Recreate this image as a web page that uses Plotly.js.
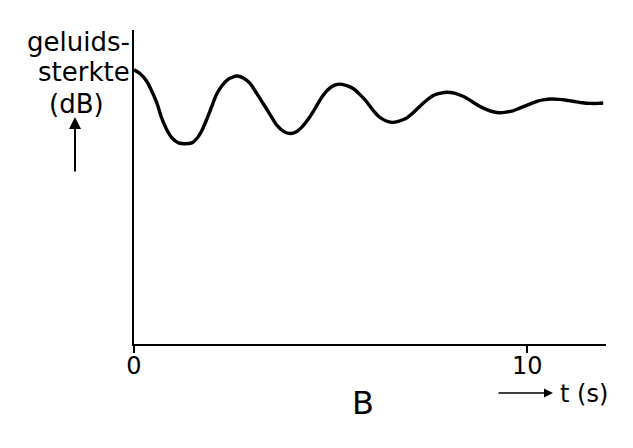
<!DOCTYPE html>
<html>
<head>
<meta charset="utf-8">
<script src="https://cdn.plot.ly/plotly-3.0.1.min.js"></script>
<style>
  html, body { margin: 0; padding: 0; background: #fff; }
  #chart { width: 633px; height: 448px; }
</style>
</head>
<body>
<div id="chart"></div>
<script>
// time (s)
const tValues = [
  0.00,0.15,0.32,0.45,0.58,0.70,0.83,0.96,1.13,1.30,
  1.47,1.60,1.72,1.85,1.98,2.10,2.23,2.40,2.61,
  2.78,2.95,3.12,3.29,3.46,3.63,3.80,3.97,
  4.13,4.29,4.45,4.61,4.77,4.93,5.09,5.25,
  5.41,5.58,5.74,5.91,6.07,6.23,6.40,6.56,
  6.74,6.91,7.09,7.27,7.44,7.62,7.80,7.97,
  8.14,8.30,8.47,8.63,8.80,8.97,9.13,9.30,
  9.46,9.63,9.79,9.95,10.11,10.28,10.44,10.60,
  10.80,11.00,11.20,11.40,11.60,11.80,11.93];
// geluidssterkte (relative units, no scale shown on the axis)
const levelValues = [
  88.2,87.0,84.6,81.4,77.6,72.8,69.0,66.4,64.7,64.4,
  64.7,66.1,68.5,72.3,76.5,80.3,83.0,85.2,86.2,
  85.6,83.8,80.6,77.2,73.8,70.4,68.4,67.7,
  68.3,70.1,72.7,75.9,79.3,81.8,83.2,83.6,
  83.1,82.1,80.3,78.0,75.3,73.1,71.8,71.3,
  71.7,72.5,74.3,76.5,78.4,80.0,80.7,81.0,
  80.7,80.0,79.0,77.7,76.4,75.4,74.7,74.4,
  74.6,75.0,75.8,76.6,77.4,78.2,78.6,78.8,
  78.7,78.4,78.0,77.6,77.4,77.4,77.5];
// x tick labels
const xTickVals = [0, 10];
const xTickText = ['0', '10'];
const yLabelLines = ['geluids-', 'sterkte', '(dB)'];
const xLabel = 't (s)';
const panelLabel = 'B';

const W = 633, H = 448;
const M = {l: 134, r: 27, t: 30, b: 104};
const PW = W - M.l - M.r, PH = H - M.t - M.b;
const px = x => (x - M.l) / PW;
const py = y => (H - M.b - y) / PH;

const FONT = 'DejaVu Sans, Liberation Sans, sans-serif';

const trace = {
  x: tValues, y: levelValues, type: 'scatter', mode: 'lines',
  line: {color: '#000', width: 3.4, shape: 'spline', smoothing: 0.6},
  hoverinfo: 'skip', showlegend: false
};

const annotations = [
  {text: yLabelLines[0], x: px(78), y: py(42), xref: 'paper', yref: 'paper', xanchor: 'center', yanchor: 'middle', showarrow: false, font: {family: FONT, size: 26, color: '#000'}},
  {text: yLabelLines[1], x: px(84), y: py(72), xref: 'paper', yref: 'paper', xanchor: 'center', yanchor: 'middle', showarrow: false, font: {family: FONT, size: 26, color: '#000'}},
  {text: yLabelLines[2], x: px(76), y: py(104), xref: 'paper', yref: 'paper', xanchor: 'center', yanchor: 'middle', showarrow: false, font: {family: FONT, size: 26, color: '#000'}},
  // up arrow
  {text: '', x: px(75), y: py(117), xref: 'paper', yref: 'paper', showarrow: true, ax: 0, ay: 56, arrowhead: 2, arrowsize: 1.2, arrowwidth: 2, arrowcolor: '#000', standoff: 0},
  // right arrow
  {text: '', x: px(553), y: py(393), xref: 'paper', yref: 'paper', showarrow: true, ax: -56, ay: 0, arrowhead: 2, arrowsize: 1.2, arrowwidth: 1.5, arrowcolor: '#000', standoff: 0},
  {text: xLabel, x: px(584), y: py(394), xref: 'paper', yref: 'paper', xanchor: 'center', yanchor: 'middle', showarrow: false, font: {family: FONT, size: 24, color: '#000'}},
  {text: panelLabel, x: px(363), y: py(403), xref: 'paper', yref: 'paper', xanchor: 'center', yanchor: 'middle', showarrow: false, font: {family: FONT, size: 32, color: '#000'}}
];

const layout = {
  width: W, height: H, autosize: false,
  margin: M,
  paper_bgcolor: '#fff', plot_bgcolor: '#fff',
  showlegend: false,
  xaxis: {
    range: [0, 12], showgrid: false, zeroline: false,
    showline: true, linecolor: '#000', linewidth: 2,
    tickmode: 'array', tickvals: xTickVals, ticktext: xTickText,
    ticks: 'outside', ticklen: 7, tickwidth: 2, tickcolor: '#000',
    ticklabelstandoff: -8,
    tickfont: {family: FONT, size: 24, color: '#000'},
    fixedrange: true
  },
  xaxis2: {
    range: [0, 12], overlaying: 'x', anchor: 'y', side: 'bottom',
    showgrid: false, zeroline: false, showline: false,
    tickmode: 'array', tickvals: [xTickVals[1]],
    ticks: 'inside', ticklen: 7, tickwidth: 2, tickcolor: '#000',
    showticklabels: false, fixedrange: true
  },
  yaxis: {
    range: [0, 101], showgrid: false, zeroline: false,
    showline: true, linecolor: '#000', linewidth: 2,
    ticks: '', showticklabels: false, fixedrange: true
  },
  annotations: annotations
};

Plotly.newPlot('chart', [trace], layout, {displayModeBar: false, staticPlot: true});
</script>
</body>
</html>
